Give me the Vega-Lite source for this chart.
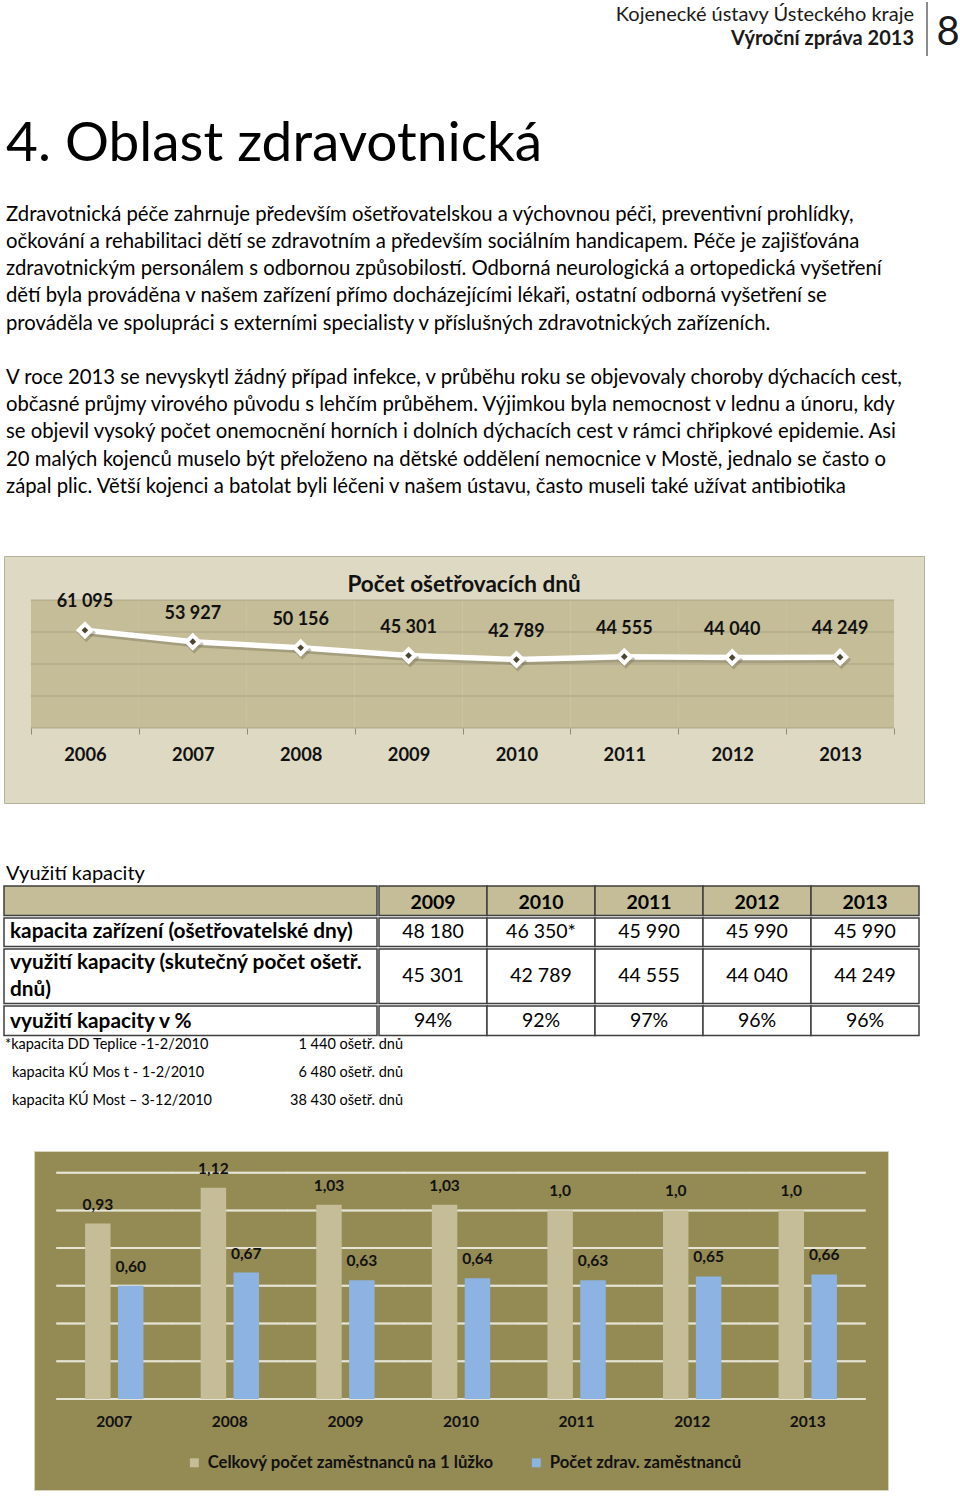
{
  "$schema": "https://vega.github.io/schema/vega-lite/v6.json",
  "background": "white",
  "padding": {"left": 3, "top": 0, "right": 0, "bottom": 0},
  "spacing": 0,
  "bounds": "full",
  "resolve": {"legend": {"color": "independent"}},
  "config": {
    "view": {"stroke": null},
    "font": "Lato",
    "text": {"font": "Lato", "color": "#000000"},
    "locale": {"number": {"decimal": ",", "thousands": " ", "grouping": [3], "currency": ["", " Kč"]}}
  },
  "datasets": {
    "header": [
      {"line": 1, "text": "Kojenecké ústavy Ústeckého kraje"},
      {"line": 2, "text": "Výroční zpráva 2013"}
    ],
    "paragraphs": [
      {"line": 1, "text": "Zdravotnická péče zahrnuje především ošetřovatelskou a výchovnou péči, preventivní prohlídky,"},
      {"line": 2, "text": "očkování a rehabilitaci dětí se zdravotním a především sociálním handicapem. Péče je zajišťována"},
      {"line": 3, "text": "zdravotnickým personálem s odbornou způsobilostí. Odborná neurologická a ortopedická vyšetření"},
      {"line": 4, "text": "dětí byla prováděna v našem zařízení přímo docházejícími lékaři, ostatní odborná vyšetření se"},
      {"line": 5, "text": "prováděla ve spolupráci s externími specialisty v příslušných zdravotnických zařízeních."},
      {"line": 7, "text": "V roce 2013 se nevyskytl žádný případ infekce, v průběhu roku se objevovaly choroby dýchacích cest,"},
      {"line": 8, "text": "občasné průjmy virového původu s lehčím průběhem. Výjimkou byla nemocnost v lednu a únoru, kdy"},
      {"line": 9, "text": "se objevil vysoký počet onemocnění horních i dolních dýchacích cest v rámci chřipkové epidemie. Asi"},
      {"line": 10, "text": "20 malých kojenců muselo být přeloženo na dětské oddělení nemocnice v Mostě, jednalo se často o"},
      {"line": 11, "text": "zápal plic. Větší kojenci a batolat byli léčeni v našem ústavu, často museli také užívat antibiotika"}
    ],
    "days": [
      {"year": "2006", "days": 61095},
      {"year": "2007", "days": 53927},
      {"year": "2008", "days": 50156},
      {"year": "2009", "days": 45301},
      {"year": "2010", "days": 42789},
      {"year": "2011", "days": 44555},
      {"year": "2012", "days": 44040},
      {"year": "2013", "days": 44249}
    ],
    "tableLabels": [
      {"row": "h", "label": ""},
      {"row": "r1", "label": "kapacita zařízení (ošetřovatelské dny)"},
      {"row": "r2", "label": "využití kapacity (skutečný počet ošetř.\ndnů)"},
      {"row": "r3", "label": "využití kapacity v %"}
    ],
    "table": [
      {"row": "h", "year": "2009", "val": "2009"},
      {"row": "h", "year": "2010", "val": "2010"},
      {"row": "h", "year": "2011", "val": "2011"},
      {"row": "h", "year": "2012", "val": "2012"},
      {"row": "h", "year": "2013", "val": "2013"},
      {"row": "r1", "year": "2009", "val": "48 180"},
      {"row": "r1", "year": "2010", "val": "46 350*"},
      {"row": "r1", "year": "2011", "val": "45 990"},
      {"row": "r1", "year": "2012", "val": "45 990"},
      {"row": "r1", "year": "2013", "val": "45 990"},
      {"row": "r2", "year": "2009", "val": "45 301"},
      {"row": "r2", "year": "2010", "val": "42 789"},
      {"row": "r2", "year": "2011", "val": "44 555"},
      {"row": "r2", "year": "2012", "val": "44 040"},
      {"row": "r2", "year": "2013", "val": "44 249"},
      {"row": "r3", "year": "2009", "val": "94%"},
      {"row": "r3", "year": "2010", "val": "92%"},
      {"row": "r3", "year": "2011", "val": "97%"},
      {"row": "r3", "year": "2012", "val": "96%"},
      {"row": "r3", "year": "2013", "val": "96%"}
    ],
    "footnotes": [
      {"line": 1, "note": "*kapacita DD Teplice -1-2/2010", "amount": "1 440 ošetř. dnů"},
      {"line": 2, "note": "kapacita KÚ Mos t - 1-2/2010", "amount": "6 480 ošetř. dnů"},
      {"line": 3, "note": "kapacita KÚ Most – 3-12/2010", "amount": "38 430 ošetř. dnů"}
    ],
    "staff": [
      {"year": "2007", "series": "Celkový počet zaměstnanců na 1 lůžko", "value": 0.93, "label": "0,93"},
      {"year": "2007", "series": "Počet zdrav. zaměstnanců", "value": 0.60, "label": "0,60"},
      {"year": "2008", "series": "Celkový počet zaměstnanců na 1 lůžko", "value": 1.12, "label": "1,12"},
      {"year": "2008", "series": "Počet zdrav. zaměstnanců", "value": 0.67, "label": "0,67"},
      {"year": "2009", "series": "Celkový počet zaměstnanců na 1 lůžko", "value": 1.03, "label": "1,03"},
      {"year": "2009", "series": "Počet zdrav. zaměstnanců", "value": 0.63, "label": "0,63"},
      {"year": "2010", "series": "Celkový počet zaměstnanců na 1 lůžko", "value": 1.03, "label": "1,03"},
      {"year": "2010", "series": "Počet zdrav. zaměstnanců", "value": 0.64, "label": "0,64"},
      {"year": "2011", "series": "Celkový počet zaměstnanců na 1 lůžko", "value": 1.0, "label": "1,0"},
      {"year": "2011", "series": "Počet zdrav. zaměstnanců", "value": 0.63, "label": "0,63"},
      {"year": "2012", "series": "Celkový počet zaměstnanců na 1 lůžko", "value": 1.0, "label": "1,0"},
      {"year": "2012", "series": "Počet zdrav. zaměstnanců", "value": 0.65, "label": "0,65"},
      {"year": "2013", "series": "Celkový počet zaměstnanců na 1 lůžko", "value": 1.0, "label": "1,0"},
      {"year": "2013", "series": "Počet zdrav. zaměstnanců", "value": 0.66, "label": "0,66"}
    ]
  },
  "vconcat": [
    {
      "width": 957, "height": 60,
      "data": {"name": "header"},
      "layer": [
        {
          "transform": [{"filter": "datum.line == 1"}],
          "mark": {"type": "text", "align": "right", "baseline": "middle", "fontSize": 20, "color": "#1a1a1a"},
          "encoding": {
            "x": {"value": 910},
            "y": {"field": "line", "type": "ordinal", "scale": {"domain": [1, 2], "paddingInner": 0, "paddingOuter": 0}, "axis": null},
            "text": {"field": "text"}
          }
        },
        {
          "transform": [{"filter": "datum.line == 2"}],
          "mark": {"type": "text", "align": "right", "baseline": "middle", "fontSize": 20, "fontWeight": "bold", "dy": -6, "color": "#1a1a1a"},
          "encoding": {
            "x": {"value": 910},
            "y": {"field": "line", "type": "ordinal", "axis": null},
            "text": {"field": "text"}
          }
        },
        {
          "data": {"values": [{"page": "8"}]},
          "mark": {"type": "rule", "color": "#1a1a1a", "strokeWidth": 1},
          "encoding": {"x": {"value": 923}, "y": {"value": 2}, "y2": {"value": 56}}
        },
        {
          "data": {"values": [{"page": "8"}]},
          "mark": {"type": "text", "align": "center", "baseline": "middle", "fontSize": 40, "color": "#1a1a1a"},
          "encoding": {"x": {"value": 944}, "y": {"value": 33}, "text": {"field": "page"}}
        }
      ]
    },
    {
      "width": 957, "height": 141,
      "data": {"values": [{"text": "4. Oblast zdravotnická"}]},
      "mark": {"type": "text", "align": "left", "baseline": "middle", "fontSize": 55, "dx": 2, "dy": 13},
      "encoding": {"x": {"value": 0}, "text": {"field": "text"}}
    },
    {
      "width": 957, "height": 354,
      "data": {"name": "paragraphs"},
      "mark": {"type": "text", "align": "left", "baseline": "middle", "fontSize": 20.3, "dx": 2},
      "encoding": {
        "x": {"value": 0},
        "y": {"field": "line", "type": "ordinal", "scale": {"domain": [1, 2, 3, 4, 5, 6, 7, 8, 9, 10, 11, 12, 13], "paddingInner": 0, "paddingOuter": 0}, "axis": null},
        "text": {"field": "text"}
      }
    },
    {
      "width": 920, "height": 247,
      "view": {"fill": "#DDD9C3", "stroke": "#B3B09C", "strokeWidth": 1},
      "title": {"text": "Počet ošetřovacích dnů", "anchor": "middle", "offset": -58, "baseline": "alphabetic", "font": "Lato", "fontSize": 22.5, "fontWeight": "bold", "color": "#111111"},
      "data": {"name": "days"},
      "encoding": {
        "x": {
          "field": "year", "type": "ordinal",
          "scale": {"paddingInner": 0, "paddingOuter": 0.2642, "align": 0.4737},
          "axis": {"orient": "bottom", "offset": -75, "domain": false, "grid": false, "tickBand": "extent", "tickSize": 6, "tickColor": "#8F8B78", "tickWidth": 1, "labelAngle": 0, "labelFont": "Lato", "labelFontSize": 18.3, "labelFontWeight": "bold", "labelColor": "#111111", "labelPadding": 12, "title": null}
        }
      },
      "layer": [
        {
          "mark": {"type": "rect", "fill": "#C4BD97"},
          "encoding": {
            "y": {"datum": 0, "type": "quantitative", "scale": {"domain": [-46875, 107500], "nice": false, "zero": false}, "axis": null},
            "y2": {"datum": 80000}
          }
        },
        {"mark": {"type": "tick", "orient": "horizontal", "size": 108, "thickness": 1, "color": "#9F9A83"}, "encoding": {"y": {"datum": 0, "type": "quantitative", "axis": null}}},
        {"mark": {"type": "tick", "orient": "horizontal", "size": 108, "thickness": 1, "color": "#9F9A83"}, "encoding": {"y": {"datum": 20000, "type": "quantitative", "axis": null}}},
        {"mark": {"type": "tick", "orient": "horizontal", "size": 108, "thickness": 1, "color": "#9F9A83"}, "encoding": {"y": {"datum": 40000, "type": "quantitative", "axis": null}}},
        {"mark": {"type": "tick", "orient": "horizontal", "size": 108, "thickness": 1, "color": "#9F9A83"}, "encoding": {"y": {"datum": 60000, "type": "quantitative", "axis": null}}},
        {"mark": {"type": "tick", "orient": "horizontal", "size": 108, "thickness": 1, "color": "#9F9A83"}, "encoding": {"y": {"datum": 80000, "type": "quantitative", "axis": null}}},
        {
          "mark": {"type": "line", "color": "#7E7860", "opacity": 0.45, "strokeWidth": 5, "xOffset": 1.5, "yOffset": 3},
          "encoding": {"y": {"field": "days", "type": "quantitative", "axis": null}}
        },
        {
          "mark": {"type": "line", "color": "#FFFFFF", "strokeWidth": 5.5},
          "encoding": {"y": {"field": "days", "type": "quantitative", "axis": null}}
        },
        {
          "mark": {"type": "point", "shape": "diamond", "filled": true, "size": 360, "color": "#7E7860", "opacity": 0.45, "xOffset": 1.5, "yOffset": 2.5},
          "encoding": {"y": {"field": "days", "type": "quantitative", "axis": null}}
        },
        {
          "mark": {"type": "point", "shape": "diamond", "filled": true, "size": 330, "color": "#FFFFFF", "opacity": 1},
          "encoding": {"y": {"field": "days", "type": "quantitative", "axis": null}}
        },
        {
          "mark": {"type": "point", "shape": "diamond", "filled": true, "size": 45, "color": "#4B4631", "opacity": 1},
          "encoding": {"y": {"field": "days", "type": "quantitative", "axis": null}}
        },
        {
          "mark": {"type": "text", "baseline": "alphabetic", "align": "center", "dy": -23, "font": "Lato", "fontSize": 18, "fontWeight": "bold", "color": "#111111"},
          "encoding": {
            "y": {"field": "days", "type": "quantitative", "axis": null},
            "text": {"field": "days", "type": "quantitative", "format": ",d"}
          }
        }
      ]
    },
    {
      "width": 957, "height": 81,
      "data": {"values": [{"text": "Využití kapacity"}]},
      "mark": {"type": "text", "align": "left", "baseline": "middle", "fontSize": 20, "dx": 2, "dy": 29},
      "encoding": {"x": {"value": 0}, "text": {"field": "text"}}
    },
    {
      "hconcat": [
        {
          "width": 373, "height": 29.5,
          "view": {"fill": "#C4BD97", "stroke": "#3F3F3F", "strokeWidth": 1.5},
          "data": {"name": "tableLabels"},
          "transform": [{"filter": "datum.row == 'h'"}],
          "mark": {"type": "text", "align": "left", "baseline": "middle", "fontSize": 20.8, "fontWeight": "bold", "dx": 6},
          "encoding": {"x": {"value": 0}, "text": {"field": "label"}}
        },
        {
          "width": 540, "height": 29.5,
          "data": {"name": "table"},
          "transform": [{"filter": "datum.row == 'h'"}],
          "encoding": {"x": {"field": "year", "type": "ordinal", "scale": {"paddingInner": 0, "paddingOuter": 0}, "axis": null}},
          "layer": [
            {"mark": {"type": "rect", "fill": "#C4BD97", "stroke": "#3F3F3F", "strokeWidth": 1.5}},
            {"mark": {"type": "text", "baseline": "middle", "fontSize": 19.5, "fontWeight": "bold", "dy": 2}, "encoding": {"text": {"field": "val"}}}
          ]
        }
      ],
      "spacing": 0, "bounds": "full"
    },
    {
      "hconcat": [
        {
          "width": 373, "height": 28.5,
          "view": {"fill": "#FFFFFF", "stroke": "#3F3F3F", "strokeWidth": 1.5},
          "data": {"name": "tableLabels"},
          "transform": [{"filter": "datum.row == 'r1'"}],
          "mark": {"type": "text", "align": "left", "baseline": "middle", "fontSize": 20.8, "fontWeight": "bold", "dx": 6},
          "encoding": {"x": {"value": 0}, "text": {"field": "label"}}
        },
        {
          "width": 540, "height": 28.5,
          "data": {"name": "table"},
          "transform": [{"filter": "datum.row == 'r1'"}],
          "encoding": {"x": {"field": "year", "type": "ordinal", "scale": {"paddingInner": 0, "paddingOuter": 0}, "axis": null}},
          "layer": [
            {"mark": {"type": "rect", "fill": "#FFFFFF", "stroke": "#3F3F3F", "strokeWidth": 1.5}},
            {"mark": {"type": "text", "baseline": "middle", "fontSize": 19.5}, "encoding": {"text": {"field": "val"}}}
          ]
        }
      ],
      "spacing": 0, "bounds": "full"
    },
    {
      "hconcat": [
        {
          "width": 373, "height": 54.5,
          "view": {"fill": "#FFFFFF", "stroke": "#3F3F3F", "strokeWidth": 1.5},
          "data": {"name": "tableLabels"},
          "transform": [{"filter": "datum.row == 'r2'"}],
          "mark": {"type": "text", "align": "left", "baseline": "middle", "fontSize": 20.8, "fontWeight": "bold", "dx": 6, "dy": -13.5, "lineBreak": "\n", "lineHeight": 27},
          "encoding": {"x": {"value": 0}, "text": {"field": "label"}}
        },
        {
          "width": 540, "height": 54.5,
          "data": {"name": "table"},
          "transform": [{"filter": "datum.row == 'r2'"}],
          "encoding": {"x": {"field": "year", "type": "ordinal", "scale": {"paddingInner": 0, "paddingOuter": 0}, "axis": null}},
          "layer": [
            {"mark": {"type": "rect", "fill": "#FFFFFF", "stroke": "#3F3F3F", "strokeWidth": 1.5}},
            {"mark": {"type": "text", "baseline": "middle", "fontSize": 19.5}, "encoding": {"text": {"field": "val"}}}
          ]
        }
      ],
      "spacing": 0, "bounds": "full"
    },
    {
      "hconcat": [
        {
          "width": 373, "height": 29.5,
          "view": {"fill": "#FFFFFF", "stroke": "#3F3F3F", "strokeWidth": 1.5},
          "data": {"name": "tableLabels"},
          "transform": [{"filter": "datum.row == 'r3'"}],
          "mark": {"type": "text", "align": "left", "baseline": "middle", "fontSize": 20.8, "fontWeight": "bold", "dx": 6, "dy": 1},
          "encoding": {"x": {"value": 0}, "text": {"field": "label"}}
        },
        {
          "width": 540, "height": 29.5,
          "data": {"name": "table"},
          "transform": [{"filter": "datum.row == 'r3'"}],
          "encoding": {"x": {"field": "year", "type": "ordinal", "scale": {"paddingInner": 0, "paddingOuter": 0}, "axis": null}},
          "layer": [
            {"mark": {"type": "rect", "fill": "#FFFFFF", "stroke": "#3F3F3F", "strokeWidth": 1.5}},
            {"mark": {"type": "text", "baseline": "middle", "fontSize": 19.5}, "encoding": {"text": {"field": "val"}}}
          ]
        }
      ],
      "spacing": 0, "bounds": "full"
    },
    {
      "width": 399, "height": 112,
      "data": {"name": "footnotes"},
      "encoding": {
        "y": {"field": "line", "type": "ordinal", "scale": {"domain": [1, 2, 3, 4], "paddingInner": 0, "paddingOuter": 0}, "axis": null}
      },
      "layer": [
        {
          "transform": [{"filter": "datum.line == 1"}],
          "mark": {"type": "text", "align": "left", "baseline": "middle", "fontSize": 14.5, "dx": 1, "dy": -7},
          "encoding": {"x": {"value": 0}, "text": {"field": "note"}}
        },
        {
          "transform": [{"filter": "datum.line > 1"}],
          "mark": {"type": "text", "align": "left", "baseline": "middle", "fontSize": 14.5, "dx": 8, "dy": -7},
          "encoding": {"x": {"value": 0}, "text": {"field": "note"}}
        },
        {
          "mark": {"type": "text", "align": "right", "baseline": "middle", "fontSize": 14.5, "dy": -7},
          "encoding": {"x": {"value": 399}, "text": {"field": "amount"}}
        }
      ]
    },
    {
      "hconcat": [
        {
          "width": 29, "height": 340,
          "data": {"values": []},
          "mark": "point"
        },
        {
          "width": 854, "height": 339,
          "view": {"fill": "#948A54", "stroke": "#D8D4BC", "strokeWidth": 1},
          "data": {"name": "staff"},
          "encoding": {
            "x": {
              "field": "year", "type": "ordinal",
              "scale": {"paddingInner": 0.495, "paddingOuter": 0.442, "align": 0.5},
              "axis": {"orient": "bottom", "offset": -91.2, "domain": false, "ticks": false, "grid": false, "labelAngle": 0, "labelFont": "Lato", "labelFontSize": 15.5, "labelFontWeight": "bold", "labelColor": "#111111", "labelPadding": 16, "title": null}
            }
          },
          "layer": [
            {"mark": {"type": "tick", "orient": "horizontal", "size": 116, "thickness": 2, "color": "#EEECE1"}, "encoding": {"y": {"datum": 0, "type": "quantitative", "scale": {"domain": [-0.483, 1.315], "nice": false, "zero": false}, "axis": null}}},
            {"mark": {"type": "tick", "orient": "horizontal", "size": 116, "thickness": 2, "color": "#EEECE1"}, "encoding": {"y": {"datum": 0.2, "type": "quantitative", "axis": null}}},
            {"mark": {"type": "tick", "orient": "horizontal", "size": 116, "thickness": 2, "color": "#EEECE1"}, "encoding": {"y": {"datum": 0.4, "type": "quantitative", "axis": null}}},
            {"mark": {"type": "tick", "orient": "horizontal", "size": 116, "thickness": 2, "color": "#EEECE1"}, "encoding": {"y": {"datum": 0.6, "type": "quantitative", "axis": null}}},
            {"mark": {"type": "tick", "orient": "horizontal", "size": 116, "thickness": 2, "color": "#EEECE1"}, "encoding": {"y": {"datum": 0.8, "type": "quantitative", "axis": null}}},
            {"mark": {"type": "tick", "orient": "horizontal", "size": 116, "thickness": 2, "color": "#EEECE1"}, "encoding": {"y": {"datum": 1.0, "type": "quantitative", "axis": null}}},
            {"mark": {"type": "tick", "orient": "horizontal", "size": 116, "thickness": 2, "color": "#EEECE1"}, "encoding": {"y": {"datum": 1.2, "type": "quantitative", "axis": null}}},
            {
              "mark": {"type": "bar"},
              "encoding": {
                "xOffset": {"field": "series", "type": "nominal", "scale": {"paddingInner": 0.225, "paddingOuter": 0}},
                "y": {"field": "value", "type": "quantitative", "axis": null},
                "y2": {"datum": 0},
                "color": {
                  "field": "series", "type": "nominal",
                  "scale": {"domain": ["Celkový počet zaměstnanců na 1 lůžko", "Počet zdrav. zaměstnanců"], "range": ["#C4BD97", "#8DB3E2"]},
                  "legend": {"orient": "none", "legendX": 152, "legendY": 303, "direction": "horizontal", "title": null, "symbolType": "square", "symbolSize": 80, "symbolStrokeWidth": 0, "labelFont": "Lato", "labelFontSize": 16.7, "labelFontWeight": "bold", "labelColor": "#111111", "labelLimit": 400, "columnPadding": 34, "labelOffset": 5}
                }
              }
            },
            {
              "mark": {"type": "text", "baseline": "middle", "align": "center", "dy": -19, "font": "Lato", "fontSize": 15.5, "fontWeight": "bold", "color": "#111111"},
              "encoding": {
                "xOffset": {"field": "series", "type": "nominal"},
                "y": {"field": "value", "type": "quantitative", "axis": null},
                "text": {"field": "label"}
              }
            }
          ]
        }
      ],
      "spacing": 0, "bounds": "full",
      "resolve": {"legend": {"color": "independent"}}
    }
  ]
}
